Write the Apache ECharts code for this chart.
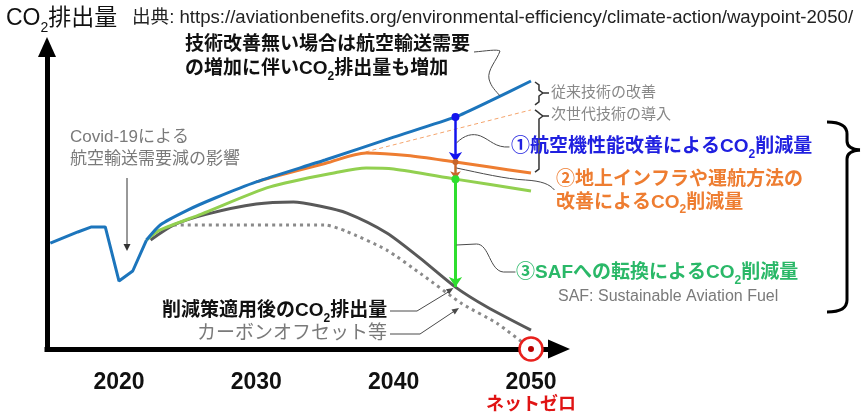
<!DOCTYPE html>
<html>
<head>
<meta charset="utf-8">
<script src="https://cdn.jsdelivr.net/npm/echarts@6/dist/echarts.min.js"></script>
<style>
  html, body { margin: 0; padding: 0; background: #fff; }
  #c { width: 861px; height: 416px; }
</style>
</head>
<body>
<div id="c"></div>
<script>
// Aviation CO2 emissions pathway to net zero in 2050 (index, arbitrary units)
const yearTicks = [2020, 2030, 2040, 2050];

// Actual emissions incl. the Covid-19 dip
const historyLine = [[2015, 42.1], [2017, 46.5], [2018, 48.5], [2019, 48.5], [2020, 27.0], [2021, 31.0], [2022, 43.3]];
// Demand growth without any technology improvement
const noActionLine = [[2022, 43.3], [2023, 49.3], [2025, 55.2], [2027, 60.0], [2030, 66.4], [2035, 75.1], [2040, 84.2], [2044.5, 92.2], [2047, 98.5], [2050, 106.5]];
// Conventional technology improvement only
const conventionalTechLine = [[2034.5, 73.5], [2050, 95.0]];
// After aircraft performance improvements
const aircraftTechLine = [[2030, 66.4], [2031, 68.0], [2035, 73.7], [2038, 77.9], [2041, 76.9], [2044.5, 74.3], [2047, 72.3], [2050, 69.9]];
// After infrastructure / operations improvements
const operationsLine = [[2022, 43.3], [2023, 47.3], [2026, 53.6], [2031, 64.4], [2036, 70.3], [2038, 71.9], [2040, 71.5], [2044.5, 67.5], [2050, 62.8]];
// After switching to SAF
const safLine = [[2022.3, 43.3], [2024, 49.3], [2026.4, 53.6], [2030, 57.6], [2032.7, 58.4], [2034.6, 56.8], [2036.6, 54.0], [2039.5, 46.1], [2041.9, 36.2], [2044.5, 24.6], [2046.8, 16.7], [2050, 7.5]];
// Remaining emissions covered by carbon offsets
const offsetLine = [[2024, 49.3], [2035, 49.3], [2036.5, 46.9], [2039.5, 39.3], [2042, 29.8], [2045, 17.9], [2047.5, 10.3], [2050, 0]];
// Net zero target
const netZero = [[2050, 0]];
// Year at which the reduction wedges are illustrated
const wedgeYear = 2044.5;

const FONT = '"Liberation Sans","Noto Sans CJK JP",sans-serif';
const valueAt = (arr, yr) => arr.find(p => p[0] === yr)[1];
const vTop = valueAt(noActionLine, wedgeYear);
const vAir = valueAt(aircraftTechLine, wedgeYear);
const vOps = valueAt(operationsLine, wedgeYear);
const vSaf = valueAt(safLine, wedgeYear);

const chart = echarts.init(document.getElementById('c'));

const lineSeries = (data, color, width, extra) => Object.assign({
  type: 'line', data, showSymbol: false, symbol: 'none', smooth: false,
  lineStyle: { color, width }, silent: true, animation: false
}, extra || {});

chart.setOption({
  animation: false,
  grid: { left: 47, top: 47, right: 302, bottom: 67 },
  xAxis: {
    type: 'value', min: 2014.757, max: 2052.04,
    axisLine: { show: true, onZero: true, lineStyle: { color: '#000', width: 5, cap: 'square' },
      symbol: ['none', 'triangle'], symbolSize: [19, 22] },
    axisTick: { show: false }, splitLine: { show: false },
    axisLabel: {
      customValues: yearTicks, margin: 22,
      formatter: v => v === 2050 ? '{y|2050}\n{r|ネットゼロ}' : '{y|' + v + '}',
      rich: {
        y: { fontSize: 23, fontWeight: 'bold', fontFamily: FONT, color: '#111', lineHeight: 24 },
        r: { fontSize: 18, fontWeight: 'bold', fontFamily: FONT, color: '#e01414', lineHeight: 20 }
      }
    }
  },
  yAxis: {
    type: 'value', min: 0, max: 120,
    axisLine: { show: true, onZero: false, lineStyle: { color: '#000', width: 5, cap: 'square' },
      symbol: ['none', 'triangle'], symbolSize: [18, 20] },
    axisTick: { show: false }, splitLine: { show: false }, axisLabel: { show: false }
  },
  series: [
    lineSeries(offsetLine, '#8a8a8a', 3, { smooth: 0.2, lineStyle: { color: '#8a8a8a', width: 3, type: [3, 4] } }),
    lineSeries(safLine, '#595959', 3, { smooth: 0.25 }),
    lineSeries(operationsLine, '#92d050', 3, { smooth: 0.25 }),
    lineSeries(conventionalTechLine, '#f4a46c', 1, { lineStyle: { color: '#f4a46c', width: 1, type: [4, 3] } }),
    lineSeries(aircraftTechLine, '#ee7d31', 3, { smooth: 0.3 }),
    lineSeries(historyLine, '#1c75bc', 3),
    lineSeries(noActionLine, '#1c75bc', 3, { smooth: 0.2 }),
    {
      type: 'lines', coordinateSystem: 'cartesian2d', silent: true, z: 4,
      symbol: ['circle', 'arrow'], symbolSize: [8, 10],
      data: [
        { coords: [[wedgeYear, vTop], [wedgeYear, vAir]], lineStyle: { color: '#1414ee', width: 2.5, opacity: 1 } },
        { coords: [[wedgeYear, vAir], [wedgeYear, vOps]], lineStyle: { color: '#c8662a', width: 2.5, opacity: 1 }, symbolSize: [6, 8] },
        { coords: [[wedgeYear, vOps], [wedgeYear, vSaf]], lineStyle: { color: '#2ede2e', width: 3, opacity: 1 } }
      ]
    },
    {
      type: 'scatter', data: netZero, symbol: 'circle', symbolSize: 23, z: 6, silent: true, clip: false,
      itemStyle: { color: '#fff', borderColor: '#e8201c', borderWidth: 2.5, opacity: 1 }
    },
    {
      type: 'scatter', data: netZero, symbol: 'circle', symbolSize: 6, z: 7, silent: true, clip: false,
      itemStyle: { color: '#b80000', opacity: 1 }
    }
  ]
});

// ---- annotations ----
const px = (x, y) => chart.convertToPixel({ gridIndex: 0 }, [x, y]);

function label(x, y, text, size, weight, color, lh) {
  const lineH = lh || size + 5;
  return {
    type: 'text', x, y, z: 20, silent: true,
    style: {
      text, fill: color, fontSize: size, fontWeight: weight, fontFamily: FONT,
      lineHeight: lineH, align: 'left', verticalAlign: 'middle',
      rich: {
        s: { fontSize: Math.round(size * 0.63), fontWeight: weight, fontFamily: FONT, fill: color,
             height: 9, lineHeight: lineH, verticalAlign: 'bottom' }
      }
    }
  };
}
// Leader/connector built from line and bezier pieces: [['M',x,y],['L',x,y],['C',c1x,c1y,c2x,c2y,x,y],['Q',cx,cy,x,y]]
function connector(cmds, color, width) {
  const parts = [];
  let cx = 0, cy = 0;
  const st = { stroke: color, lineWidth: width, fill: null };
  cmds.forEach(c => {
    if (c[0] === 'M') { cx = c[1]; cy = c[2]; }
    else if (c[0] === 'L') {
      parts.push({ type: 'line', silent: true, z: 15, shape: { x1: cx, y1: cy, x2: c[1], y2: c[2] }, style: st });
      cx = c[1]; cy = c[2];
    } else if (c[0] === 'C') {
      parts.push({ type: 'bezierCurve', silent: true, z: 15,
        shape: { x1: cx, y1: cy, cpx1: c[1], cpy1: c[2], cpx2: c[3], cpy2: c[4], x2: c[5], y2: c[6] }, style: st });
      cx = c[5]; cy = c[6];
    } else if (c[0] === 'Q') {
      parts.push({ type: 'bezierCurve', silent: true, z: 15,
        shape: { x1: cx, y1: cy, cpx1: c[1], cpy1: c[2], x2: c[3], y2: c[4] }, style: st });
      cx = c[3]; cy = c[4];
    }
  });
  return { type: 'group', silent: true, children: parts };
}
function arrowHead(x0, y0, x1, y1, len, hw, color) {
  const dx = x1 - x0, dy = y1 - y0, L = Math.hypot(dx, dy), ux = dx / L, uy = dy / L;
  const bx = x1 - ux * len, by = y1 - uy * len;
  return { type: 'polygon', z: 16, silent: true,
    shape: { points: [[x1, y1], [bx - uy * hw, by + ux * hw], [bx + uy * hw, by - ux * hw]] },
    style: { fill: color } };
}
function bracket(x, yt, yb, tip, color) {
  return { type: 'polyline', z: 15, silent: true,
    shape: { points: [[x - 4, yt], [x, yt + 3], [x, tip - 3], [x + 4, tip], [x + 10, tip], [x + 4, tip], [x, tip + 3], [x, yb - 3], [x - 4, yb]] },
    style: { stroke: color, lineWidth: 1.5, fill: null } };
}

const [xw, yTop] = px(wedgeYear, vTop);
const yAir = px(wedgeYear, vAir)[1];
const ySaf = px(wedgeYear, vSaf)[1];
const [xe, yEndTop] = px(2050, valueAt(noActionLine, 2050));
const yEndConv = px(2050, conventionalTechLine[1][1])[1];
const yEndAir = px(2050, valueAt(aircraftTechLine, 2050))[1];
const bx = xe + 8;
const lead = '#4a4a4a';

chart.setOption({
  graphic: [
    label(6, 19, 'CO{s|2}排出量', 23, 'normal', '#111', 27),
    label(132, 18, '出典: https://aviationbenefits.org/environmental-efficiency/climate-action/waypoint-2050/', 18.6, 'normal', '#222'),
    label(185, 57, '技術改善無い場合は航空輸送需要\nの増加に伴いCO{s|2}排出量も増加', 19, 'bold', '#111', 24),
    connector([['M', 474, 52], ['C', 486, 51, 497, 49, 500, 51], ['C', 497, 60, 487, 70, 489, 79], ['C', 491, 87, 496, 91, 500, yEndTop + 15]], lead, 1),
    label(70, 148, 'Covid-19による\n航空輸送需要減の影響', 17, 'normal', '#7a7a7a', 22),
    connector([['M', 127, 178], ['L', 127, 244]], '#333', 1),
    arrowHead(127, 178, 127, 251, 7, 3.5, '#333'),
    bracket(bx, yEndTop + 1, yEndConv - 5, 93, '#333'),
    bracket(bx, yEndConv, yEndAir - 1, 116, '#333'),
    label(bx + 12, 93, '従来技術の改善', 15, 'normal', '#888'),
    label(bx + 12, 115, '次世代技術の導入', 15, 'normal', '#888'),
    label(511, 147, '①航空機性能改善によるCO{s|2}削減量', 19, 'bold', '#2020e0'),
    connector([['M', xw + 1, yTop + 26], ['C', xw + 9, yTop + 18, xw + 17, yTop + 16, xw + 25, yTop + 19],
               ['C', xw + 35, yTop + 23, xw + 40, yTop + 31, xw + 54, yTop + 30]], lead, 1),
    label(556, 191.5, '②地上インフラや運航方法の\n改善によるCO{s|2}削減量', 19, 'bold', '#ee7d31', 23),
    connector([['M', xw + 1, yAir + 6], ['C', xw + 25, yAir + 11, xw + 50, yAir + 17, xw + 70, yAir + 18],
               ['C', xw + 86, yAir + 19, xw + 94, yAir + 22, xw + 99, yAir + 28]], lead, 1),
    label(516, 273, '③SAFへの転換によるCO{s|2}削減量', 19, 'bold', '#2ab868'),
    connector([['M', xw + 1, 245], ['L', xw + 21, 244], ['C', xw + 34, 244, xw + 34, 271, xw + 48, 272], ['L', xw + 60, 272]], lead, 1),
    label(558, 297, 'SAF: Sustainable Aviation Fuel', 16, 'normal', '#7a7a7a'),
    label(162, 311, '削減策適用後のCO{s|2}排出量', 19, 'bold', '#111'),
    connector([['M', 390, 311], ['L', 417, 311], ['L', xw - 4, ySaf + 3]], lead, 1),
    arrowHead(417, 311, xw - 2, ySaf + 1, 7, 3, lead),
    label(197, 334, 'カーボンオフセット等', 19, 'normal', '#7a7a7a'),
    connector([['M', 390, 334], ['L', 420, 334], ['L', 456, 310]], lead, 1),
    arrowHead(420, 334, 459, 308, 7, 3, lead),
    connector([['M', 827, 122], ['Q', 847, 122, 847, 134], ['L', 847, 141], ['Q', 847, 149, 860, 150],
               ['Q', 847, 151, 847, 159], ['L', 847, 300], ['Q', 847, 312, 827, 312]], '#000', 3)
  ]
});
</script>
</body>
</html>
